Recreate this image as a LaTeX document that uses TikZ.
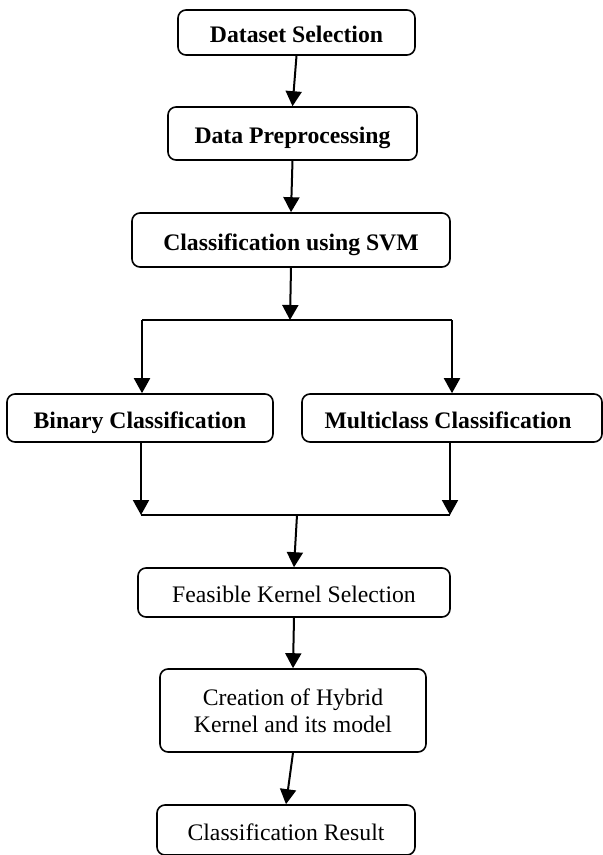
\documentclass[tikz,border=0pt]{standalone}
\usepackage{fontspec}
\setmainfont{Liberation Serif}
\usetikzlibrary{arrows.meta}
\begin{document}
\begin{tikzpicture}[x=1pt,y=-1pt,
  basebox/.style={draw, line width=1.6pt, rounded corners=8pt, inner sep=0pt,
    align=center, font=\fontsize{23.7}{27}\selectfont},
  box/.style={basebox, text height=20pt, text depth=0pt},
  boldbox/.style={box, font=\fontsize{23.7}{27}\selectfont\bfseries},
  arr/.style={line width=2pt, -{Triangle[length=15pt,width=16pt]}},
  ln/.style={line width=2pt}]
\useasboundingbox (0,0) rectangle (603,855);
\node[boldbox, minimum width=237pt, minimum height=45pt] (ds) at (296.5,32.5) {Dataset Selection};
\node[boldbox, minimum width=249pt, minimum height=53pt] (dp) at (292.5,133.5) {Data Preprocessing};
\node[boldbox, minimum width=318pt, minimum height=54pt] (svm) at (291,240) {Classification using SVM};
\node[boldbox, minimum width=266pt, minimum height=48pt] (bin) at (140,418) {Binary Classification};
\node[boldbox, minimum width=300pt, minimum height=48pt] (mul) at (452,418) {\hspace{-8pt}Multiclass Classification};
\node[box, minimum width=312pt, minimum height=49pt] (fks) at (294,592.5) {Feasible Kernel Selection};
\node[basebox, minimum width=266pt, minimum height=83pt] (hyb) at (293,710.5) {Creation of Hybrid\\Kernel and its model};
\node[box, minimum width=258pt, minimum height=50pt] (res) at (286,830) {Classification Result};

\coordinate (j1) at (290,320);
\coordinate (l1) at (142,320);
\coordinate (r1) at (452,320);
\coordinate (l2) at (141,515);
\coordinate (r2) at (450,515);
\coordinate (j2) at (297,515);

\draw[arr] (ds.south) -- (dp.north);
\draw[arr] (dp.south) -- (svm.north);
\draw[arr] (svm.south) -- (j1);
\draw[ln] (l1) -- (r1);
\draw[arr] (l1) -- (l1 |- bin.north);
\draw[arr] (r1) -- (r1 |- mul.north);
\draw[arr] (l2 |- bin.south) -- (l2);
\draw[arr] (r2 |- mul.south) -- (r2);
\draw[ln] (l2) -- (r2);
\draw[arr] (j2) -- (fks.north);
\draw[arr] (fks.south) -- (hyb.north);
\draw[arr] (hyb.south) -- (res.north);
\end{tikzpicture}
\end{document}
